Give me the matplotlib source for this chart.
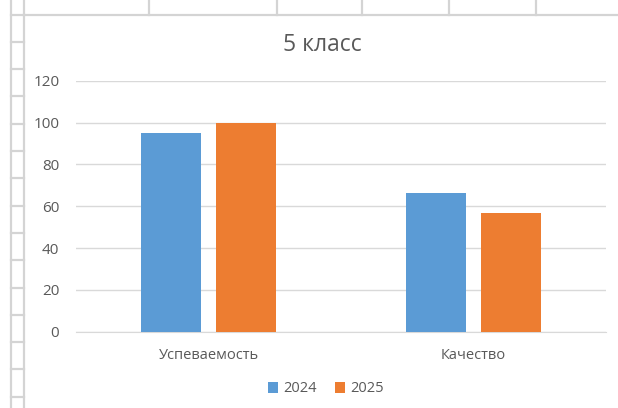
import matplotlib.pyplot as plt
import numpy as np

plt.rcParams['font.family'] = ['Open Sans', 'DejaVu Sans']

categories = ['Успеваемость', 'Качество']
years = ['2024', '2025']
values_2024 = [95, 66.5]
values_2025 = [100, 56.6]
yticks = [0, 20, 40, 60, 80, 100, 120]

blue = '#5B9BD5'
orange = '#ED7D31'
text_col = '#595959'
grid_col = '#D9D9D9'

W, H = 618, 408
fig = plt.figure(figsize=(W / 100, H / 100), dpi=100)

# spreadsheet background lines around the chart
bg = fig.add_axes([0, 0, 1, 1])
bg.set_xlim(0, W)
bg.set_ylim(H, 0)
bg.axis('off')
sheet = '#D4D4D4'
bg.plot([11, 11], [0, H], color=sheet, lw=1.6)
bg.plot([23.5, 23.5], [0, H], color=sheet, lw=1.6)
for yy in np.arange(14.5, H, 27.3):
    bg.plot([11, 23.5], [yy, yy], color=sheet, lw=1.6)
for xx in [149, 277, 362, 449, 536]:
    bg.plot([xx, xx], [0, 14.5], color=sheet, lw=1.6)
bg.plot([23.5, W], [14.5, 14.5], color=sheet, lw=1.6)

ax = fig.add_axes([76 / W, (H - 331.7) / H, 530 / W, 251 / H])
x = np.arange(len(categories))
bw = 0.225
off = 0.142
ax.bar(x - off, values_2024, bw, color=blue, label=years[0], zorder=3)
ax.bar(x + off, values_2025, bw, color=orange, label=years[1], zorder=3)

ax.set_xlim(-0.5, 1.5)
ax.set_ylim(0, 120)
ax.set_yticks(yticks)
ax.set_xticks(x)
ax.set_xticklabels(categories)
ax.grid(axis='y', color=grid_col, lw=1, zorder=0)
for s in ['top', 'right', 'left']:
    ax.spines[s].set_visible(False)
ax.spines['bottom'].set_color(grid_col)
ax.tick_params(axis='both', length=0, colors=text_col, labelsize=10.5)
ax.tick_params(axis='y', labelsize=11, pad=12)
ax.tick_params(axis='x', pad=12)

fig.text(322 / W, 1 - 45 / H, '5 класс', ha='center', va='center',
         fontsize=16.5, color=text_col)

fig.legend(loc='center', bbox_to_anchor=(326 / W, 1 - 389 / H), ncol=2,
           frameon=False, fontsize=10.5, labelcolor=text_col,
           handlelength=0.7, handleheight=0.7, handletextpad=0.4,
           columnspacing=1.2)

fig.savefig('out.png', dpi=100)
